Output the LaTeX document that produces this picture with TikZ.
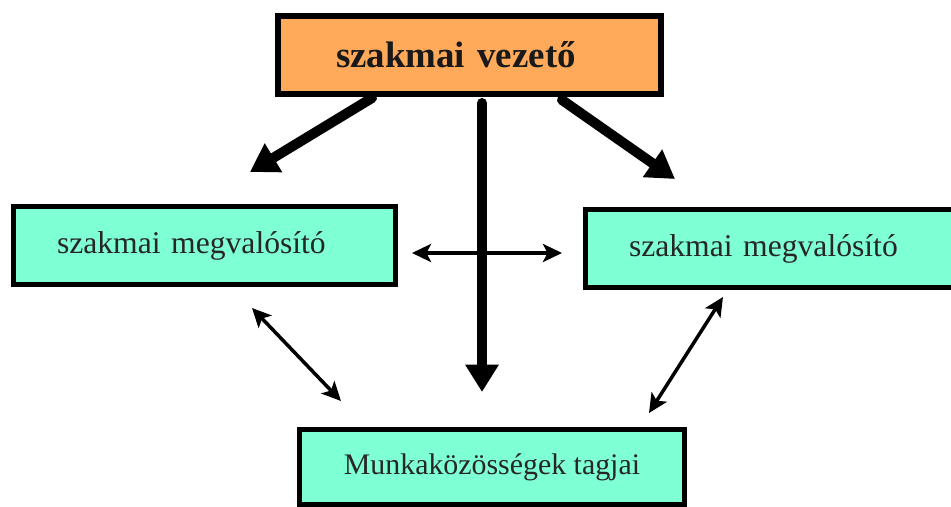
\documentclass[tikz,border=0pt]{standalone}
\usepackage{fontspec}
\setmainfont{Liberation Serif}
\usepackage{tikz}
\usetikzlibrary{positioning, arrows.meta, calc}

\definecolor{vezetoorange}{HTML}{FFAA5A}
\definecolor{tagzold}{HTML}{7FFFD4}

\tikzset{
    vezetobox/.style={draw=black, line width=0.12cm, fill=vezetoorange,
        text=black!90, font=\fontsize{21}{25}\selectfont\bfseries,
        minimum height=1.56cm, align=left},
    tagbox/.style={draw=black, line width=0.1cm, fill=tagzold,
        text=black!85, font=\fontsize{18}{22}\selectfont,
        minimum height=1.56cm, align=left},
    bigarrow/.style={line width=0.2cm, line cap=round,
        -{Triangle[width=0.64cm, length=0.55cm]}},
    smallarrow/.style={line width=0.07cm,
        {Stealth[width=0.36cm, length=0.38cm, inset=0.09cm]}-{Stealth[width=0.36cm, length=0.38cm, inset=0.09cm]}}
}

\begin{document}
\begin{tikzpicture}[x=0.02cm, y=-0.02cm]
            \useasboundingbox (0,0) rectangle (951,507);

            % boxes
            \node[vezetobox, text width=5.34cm, inner xsep=1.16cm] (vezeto) at (469.5,55) {szakmai vezető};
            \node[tagbox, text width=5.9cm, inner xsep=0.87cm] (bal) at (204.5,245.5) {szakmai megvalósító};
            \node[tagbox, text width=5.9cm, inner xsep=0.87cm] (jobb) at (776.5,248.5) {szakmai megvalósító};
            \node[tagbox, font=\fontsize{17}{20}\selectfont, minimum width=7.7cm, minimum height=1.5cm, align=center]
                (tagok) at (492,467) {Munkaközösségek tagjai};

            % arrow ends
            \coordinate (vbal) at (372,98);
            \coordinate (vbalvege) at (250,172);
            \coordinate (vjobb) at (562,100);
            \coordinate (vjobbvege) at (675,179);
            \coordinate (vkozep) at (482,103);
            \coordinate (vkozepvege) at (482,392);
            \coordinate (kozbal) at (412,253);
            \coordinate (kozjobb) at (562,253);
            \coordinate (balle) at (252,308);
            \coordinate (ballevege) at (341,401);
            \coordinate (jobble) at (723,297);
            \coordinate (jobblevege) at (649,413);

            % from the leader
            \draw[bigarrow] (vbal) -- (vbalvege);
            \draw[bigarrow] (vjobb) -- (vjobbvege);
            \draw[bigarrow] (vkozep) -- (vkozepvege);

            % between the others
            \draw[smallarrow] (kozbal) -- (kozjobb);
            \draw[smallarrow] (balle) -- (ballevege);
            \draw[smallarrow] (jobble) -- (jobblevege);
        \end{tikzpicture}
\end{document}
